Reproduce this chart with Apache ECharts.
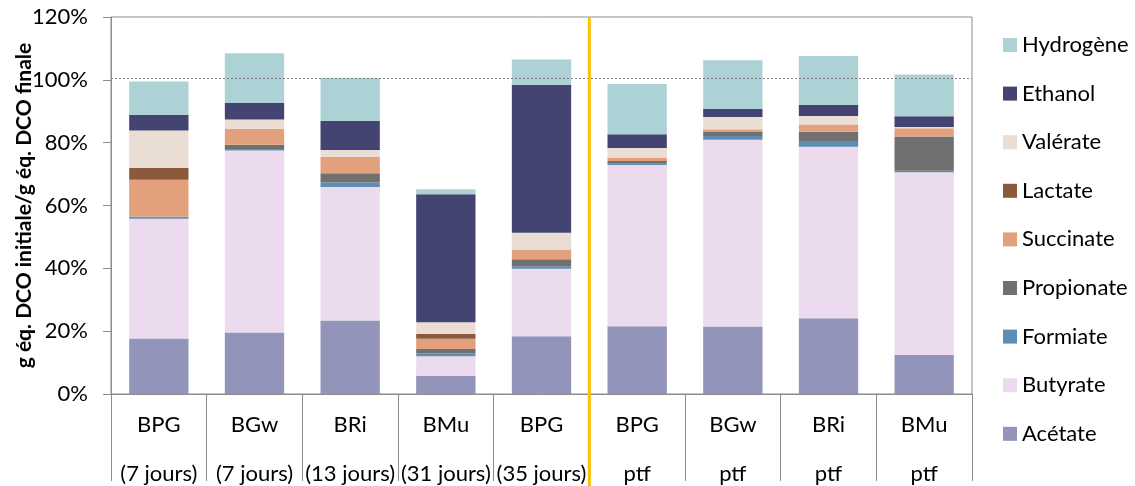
<!DOCTYPE html>
<html>
<head>
<meta charset="utf-8">
<script src="https://cdn.jsdelivr.net/npm/echarts@6/dist/echarts.min.js"></script>
<style>
html,body{margin:0;padding:0;background:#fff;}
#chart{width:1135px;height:486px;}
</style>
</head>
<body>
<div id="chart"></div>
<script>
// Categories (two-level labels)
const samples = ['BPG', 'BGw', 'BRi', 'BMu', 'BPG', 'BPG', 'BGw', 'BRi', 'BMu'];
const durations = ['(7 jours)', '(7 jours)', '(13 jours)', '(31 jours)', '(35 jours)', 'ptf', 'ptf', 'ptf', 'ptf'];

// Series values (% of initial COD), bottom to top
const acetate    = [17.7, 19.6, 23.4, 5.8, 18.4, 21.6, 21.5, 24.1, 12.4];
const butyrate   = [38.1, 57.9, 42.5, 6.2, 21.5, 51.3, 59.4, 54.6, 58.2];
const formiate   = [0.3, 0.5, 1.4, 0.9, 0.8, 0.4, 1.2, 1.8, 0.5];
const propionate = [0.3, 1.3, 3.0, 1.4, 2.2, 0.9, 1.3, 3.0, 10.9];
const succinate  = [11.8, 5.1, 5.2, 3.3, 3.1, 1.1, 0.9, 2.3, 2.6];
const lactate    = [3.7, 0, 0, 1.5, 0, 0, 0, 0, 0];
const valerate   = [12.0, 3.0, 2.2, 3.7, 5.3, 3.0, 3.9, 2.7, 0.4];
const ethanol    = [5.0, 5.2, 9.3, 40.8, 47.1, 4.4, 2.5, 3.5, 3.4];
const hydrogene  = [10.6, 15.9, 13.6, 1.6, 8.1, 16.0, 15.5, 15.6, 13.3];

// Y ticks
const yMin = 0, yMax = 120, yStep = 20;
// Reference line (100 % balance) and the divider position (after the 5th category)
const referenceLevel = 100.5;
const dividerAfter = 5;

const seriesDefs = [
  { name: 'Acétate',    data: acetate,    color: '#9294BA' },
  { name: 'Butyrate',   data: butyrate,   color: '#ECDAEE' },
  { name: 'Formiate',   data: formiate,   color: '#5B8DB5' },
  { name: 'Propionate', data: propionate, color: '#707070' },
  { name: 'Succinate',  data: succinate,  color: '#E2A17C' },
  { name: 'Lactate',    data: lactate,    color: '#8B5A3C' },
  { name: 'Valérate',   data: valerate,   color: '#EADDD4' },
  { name: 'Ethanol',    data: ethanol,    color: '#434471' },
  { name: 'Hydrogène',  data: hydrogene,  color: '#ADD2D5' }
];

const FONT = 'Lato';
const AXIS_GRAY = '#8C8C8C';
const categories = samples.map((s, i) => s + '\n' + durations[i]);

const series = seriesDefs.map((d, idx) => ({
  name: d.name,
  type: 'bar',
  stack: 'total',
  barWidth: '62%',
  xAxisIndex: 0,
  yAxisIndex: 0,
  itemStyle: { color: d.color },
  data: d.data,
  markLine: idx === 0 ? {
    silent: true,
    symbol: 'none',
    label: { show: false },
    lineStyle: { color: '#7F7F7F', type: [2, 2], width: 1.2 },
    data: [{ yAxis: referenceLevel }]
  } : undefined
}));

series.push({
  name: 'divider',
  type: 'line',
  xAxisIndex: 1,
  yAxisIndex: 1,
  symbol: 'none',
  silent: true,
  z: 10,
  lineStyle: { color: '#FFC000', width: 3 },
  data: [[dividerAfter, 0], [dividerAfter, 1]]
});

const chart = echarts.init(document.getElementById('chart'), null, { renderer: 'canvas' });
chart.setOption({
  animation: false,
  textStyle: { fontFamily: FONT },
  grid: [
    { left: 111, right: 163, top: 17, bottom: 92, show: true, borderColor: AXIS_GRAY, borderWidth: 1, containLabel: false, outerBoundsMode: 'none' },
    { left: 111, right: 163, top: 17, bottom: 0, show: false, outerBoundsMode: 'none' }
  ],
  legend: {
    orient: 'vertical',
    left: 998,
    top: 29,
    itemWidth: 14,
    itemHeight: 14,
    itemGap: 26.6,
    icon: 'rect',
    textStyle: { fontFamily: FONT, fontSize: 22, color: '#000' },
    data: seriesDefs.map(d => d.name).reverse()
  },
  xAxis: [
    {
      type: 'category',
      gridIndex: 0,
      data: categories,
      boundaryGap: true,
      axisLine: { show: true, lineStyle: { color: AXIS_GRAY, width: 1 } },
      axisTick: { show: true, interval: 0, length: 87, lineStyle: { color: AXIS_GRAY, width: 1 } },
      axisLabel: {
        interval: 0,
        margin: 6.5,
        fontFamily: FONT,
        fontSize: 22,
        color: '#000',
        lineHeight: 49
      }
    },
    {
      type: 'value',
      gridIndex: 1,
      min: 0,
      max: samples.length,
      show: false
    }
  ],
  yAxis: [
    {
      type: 'value',
      gridIndex: 0,
      min: yMin,
      max: yMax,
      interval: yStep,
      name: 'g éq. DCO initiale/g éq. DCO finale',
      nameLocation: 'middle',
      nameRotate: 90,
      nameGap: 76,
      nameMoveOverlap: false,
      nameTextStyle: { fontFamily: FONT, fontSize: 21, fontWeight: 'bold', color: '#000' },
      axisLine: { show: true, lineStyle: { color: AXIS_GRAY, width: 1 } },
      axisTick: { show: true, inside: false, length: 8, lineStyle: { color: AXIS_GRAY } },
      splitLine: { show: false },
      axisLabel: {
        margin: 23,
        fontFamily: FONT,
        fontSize: 22,
        color: '#000',
        formatter: '{value}%'
      }
    },
    {
      type: 'value',
      gridIndex: 1,
      min: 0,
      max: 1,
      show: false
    }
  ],
  series: series
});
</script>
</body>
</html>
